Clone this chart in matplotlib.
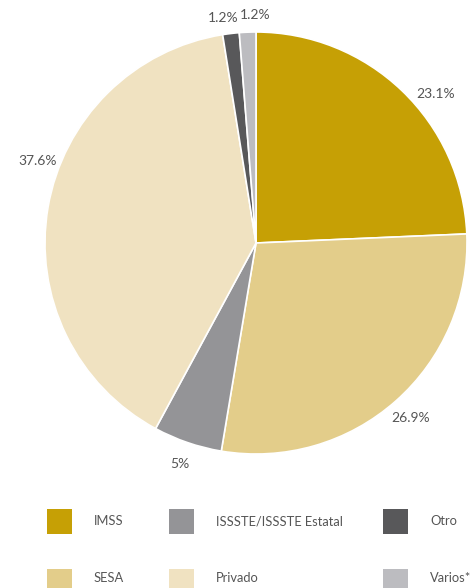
import numpy as np
import matplotlib
matplotlib.use("Agg")
import matplotlib.pyplot as plt
from matplotlib.patches import Rectangle

# data, clockwise from 12 o'clock
names = ["IMSS", "SESA", "ISSSTE/ISSSTE Estatal", "Privado", "Otro", "Varios*"]
shares = [23.1, 26.9, 5.0, 37.6, 1.2, 1.2]
labels = ["23.1%", "26.9%", "5%", "37.6%", "1.2%", "1.2%"]
colors = ["#c6a005", "#e3cd8a", "#949497", "#f0e2c1", "#58585a", "#bcbcc0"]

W, H = 470, 588
fig = plt.figure(figsize=(W / 100, H / 100), dpi=100)
plt.rcParams["font.family"] = ["Lato", "DejaVu Sans"]

ax = fig.add_axes([45 / W, 1 - 454 / H, 422 / W, 422 / H])
wedges, texts = ax.pie(shares, labels=labels, colors=colors, startangle=90,
                       counterclock=False, labeldistance=1.11,
                       wedgeprops=dict(edgecolor="white", linewidth=1.2),
                       textprops=dict(color="#555555", fontsize=10))
for t in texts:
    t.set_ha("center"); t.set_va("center")
# small nudges so labels sit where the original puts them
nudge = {0: -6.5, 3: -11.0, 4: 1.5, 5: -2.0}
for i, t in enumerate(texts):
    w = wedges[i]
    ang = np.deg2rad((w.theta1 + w.theta2) / 2 + nudge.get(i, 0))
    r = 1.08 if i >= 4 else 1.105
    t.set_position((r * np.cos(ang), r * np.sin(ang)))
ax.set_xlim(-1, 1); ax.set_ylim(-1, 1)
ax.set_aspect("equal")

# legend laid out by hand (3 columns, 2 rows)
order = [0, 2, 4, 1, 3, 5]
col_x = [47, 169, 383]
row_y = [509, 569]
text_y = [521, 578]
for k, i in enumerate(order):
    x, y = col_x[k % 3], row_y[k // 3]
    fig.add_artist(Rectangle((x / W, 1 - (y + 25) / H), 25 / W, 25 / H,
                             transform=fig.transFigure, facecolor=colors[i],
                             edgecolor="none"))
    fig.text((x + 47) / W, 1 - text_y[k // 3] / H, names[i], ha="left",
             va="center", fontsize=9.3, color="#555555")

fig.savefig("out.png", dpi=100)
